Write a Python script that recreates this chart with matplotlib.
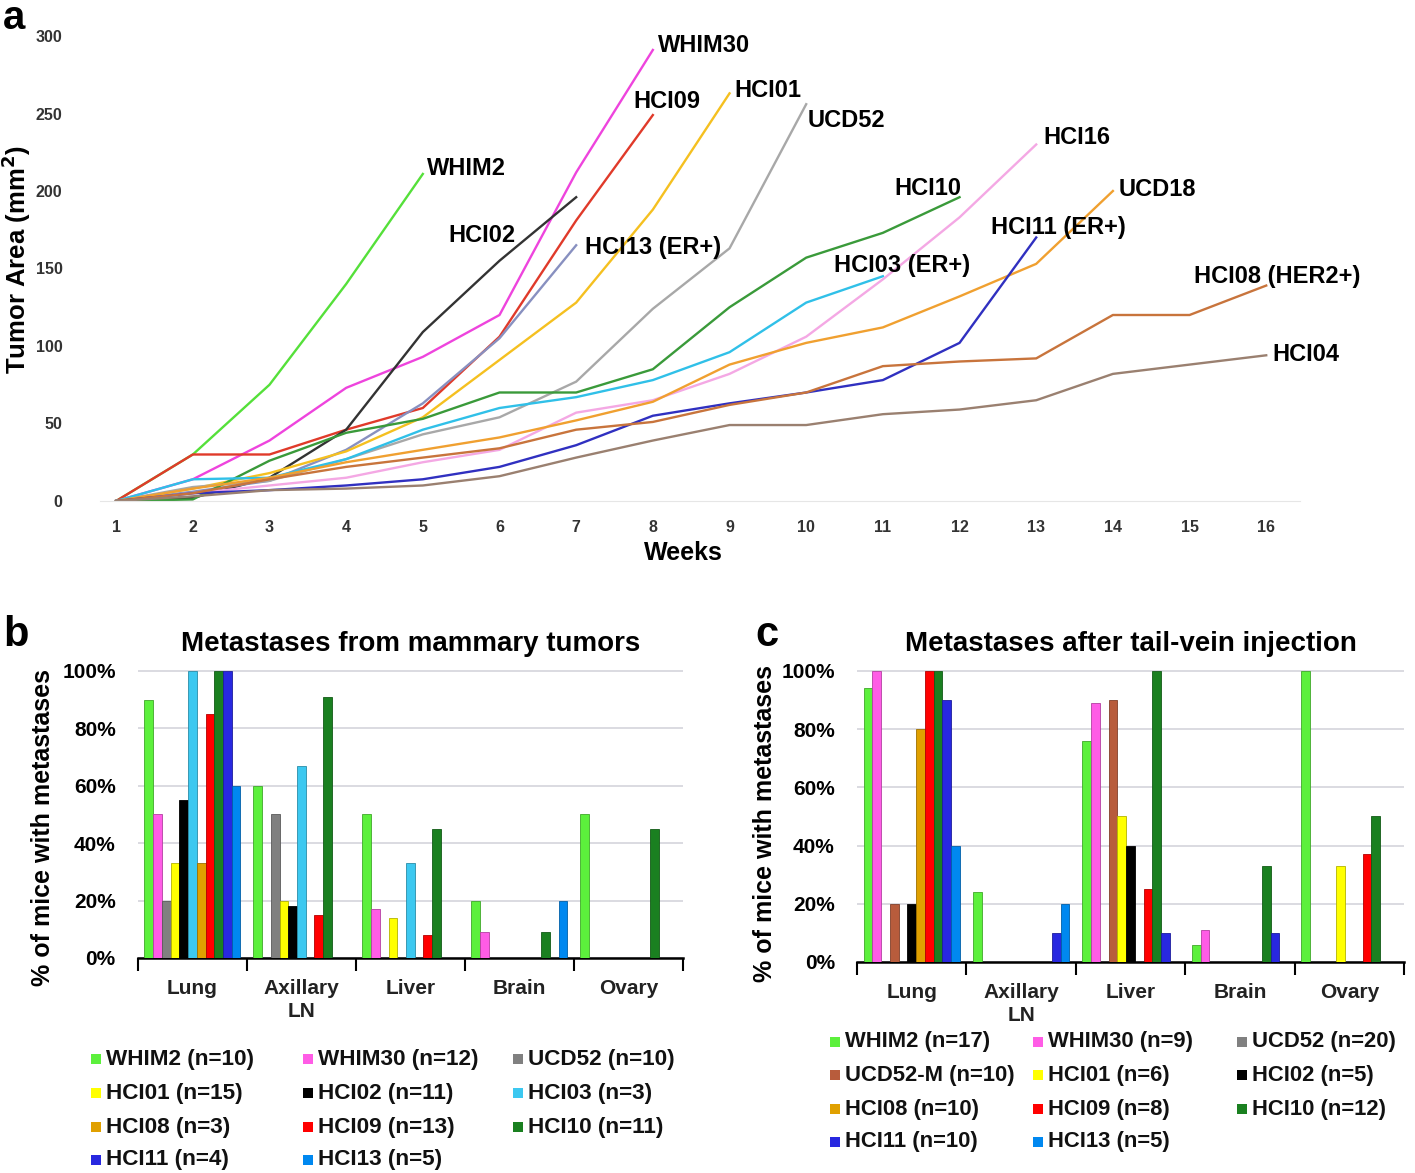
import matplotlib
matplotlib.use('Agg')
import matplotlib.pyplot as plt
from matplotlib.patches import Rectangle
from matplotlib.colors import to_rgb
import numpy as np

#================================================================================
#   Fonts
#================================================================================
plt.rcParams['font.family'] = ['Liberation Sans', 'DejaVu Sans']
plt.rcParams['font.weight'] = 'bold'

#================================================================================
#   DATA  -  panel a (tumor growth, weeks from 1)
#================================================================================
growth_names = ['WHIM2', 'WHIM30', 'HCI09', 'HCI02', 'HCI13 (ER+)', 'HCI01', 'UCD52',
                'HCI10', 'HCI03 (ER+)', 'HCI16', 'UCD18', 'HCI11 (ER+)', 'HCI08 (HER2+)', 'HCI04']

whim2 = [0, 30, 75, 140, 211]
whim30 = [0, 14, 39, 73, 93, 120, 212, 291]
hci09 = [0, 30, 30, 46, 60, 106, 181, 249]
hci02 = [0, 2, 15, 46, 109, 155, 196]
hci13 = [0, 6, 13, 33, 63, 105, 165]
hci01 = [0, 8, 18, 32, 54, 91, 128, 188, 263]
ucd52 = [0, 9, 13, 27, 43, 54, 77, 124, 163, 256]
hci10 = [0, 1, 26, 44, 53, 70, 70, 85, 125, 157, 173, 196]
hci03 = [0, 14, 15, 27, 46, 60, 67, 78, 96, 128, 145]
hci16 = [0, 5, 10, 15, 25, 33, 57, 65, 82, 106, 143, 183, 230]
ucd18 = [0, 8, 15, 25, 33, 41, 52, 64, 88, 102, 112, 132, 153, 200]
hci11 = [0, 5, 7, 10, 14, 22, 36, 55, 63, 70, 78, 102, 170]
hci08 = [0, 5, 14, 22, 28, 34, 46, 51, 62, 70, 87, 90, 92, 120, 120, 139]
hci04 = [0, 3, 7, 8, 10, 16, 28, 39, 49, 49, 56, 59, 65, 82, 88, 94]

growth_values = [whim2, whim30, hci09, hci02, hci13, hci01, ucd52,
                 hci10, hci03, hci16, ucd18, hci11, hci08, hci04]
growth_colors = ['#55e03a', '#ee44dd', '#e03a2a', '#333333', '#8890c0', '#f5c020', '#a8a8a8',
                 '#3a9a3a', '#30c0e8', '#f4a8e4', '#f0a030', '#3030c0', '#c8743c', '#9a8070']
# label offset from the end of each line (pixels)
growth_label_offsets = [(4, 5), (5, 4), (-19, 14), (-128, -38), (9, -2), (5, 3), (1, -16),
                        (-65, 9), (-49, 11), (7, 7), (6, 2), (-45, 10), (-72, 9), (6, 1)]

week_ticks = list(range(1, 17))
area_ticks = [0, 50, 100, 150, 200, 250, 300]

#================================================================================
#   DATA  -  panels b and c (% of mice with metastases)
#================================================================================
sites = ['Lung', 'Axillary\nLN', 'Liver', 'Brain', 'Ovary']
pct_ticks = [0, 20, 40, 60, 80, 100]

series_colors = {
    'WHIM2': '#5cf03c', 'WHIM30': '#ff5ce6', 'UCD52': '#808080', 'UCD52-M': '#b85c3c',
    'HCI01': '#ffff00', 'HCI02': '#000000', 'HCI03': '#3cc8f0', 'HCI08': '#e0a000',
    'HCI09': '#ff0000', 'HCI10': '#1a8020', 'HCI11': '#2828e0', 'HCI13': '#0088f0',
}

mammary_names = ['WHIM2', 'WHIM30', 'UCD52', 'HCI01', 'HCI02', 'HCI03',
                 'HCI08', 'HCI09', 'HCI10', 'HCI11', 'HCI13']
mammary_n = [10, 12, 10, 15, 11, 3, 3, 13, 11, 4, 5]
# rows = series, columns = Lung, Axillary LN, Liver, Brain, Ovary
mammary_pct = [
    [90, 60, 50, 20, 50],
    [50, 0, 17, 9, 0],
    [20, 50, 0, 0, 0],
    [33, 20, 14, 0, 0],
    [55, 18, 0, 0, 0],
    [100, 67, 33, 0, 0],
    [33, 0, 0, 0, 0],
    [85, 15, 8, 0, 0],
    [100, 91, 45, 9, 45],
    [100, 0, 0, 0, 0],
    [60, 0, 0, 20, 0],
]

tailvein_names = ['WHIM2', 'WHIM30', 'UCD52', 'UCD52-M', 'HCI01', 'HCI02',
                  'HCI08', 'HCI09', 'HCI10', 'HCI11', 'HCI13']
tailvein_n = [17, 9, 20, 10, 6, 5, 10, 8, 12, 10, 5]
tailvein_pct = [
    [94, 24, 76, 6, 100],
    [100, 0, 89, 11, 0],
    [0, 0, 0, 0, 0],
    [20, 0, 90, 0, 0],
    [0, 0, 50, 0, 33],
    [20, 0, 40, 0, 0],
    [80, 0, 0, 0, 0],
    [100, 0, 25, 0, 37],
    [100, 0, 100, 33, 50],
    [90, 10, 10, 10, 0],
    [40, 20, 0, 0, 0],
]

#================================================================================
#   Helpers
#================================================================================
def darker(color, f=0.7):
    r, g, b = to_rgb(color)
    return (r * f, g * f, b * f)


def draw_growth(fig):
    ax = fig.add_axes([0.0707, 0.5729, 0.848, 0.3964])
    for name, vals, col, off in zip(growth_names, growth_values, growth_colors, growth_label_offsets):
        weeks = np.arange(1, len(vals) + 1)
        ax.plot(weeks, vals, color=col, lw=1.7)
        ax.annotate(name, xy=(weeks[-1], vals[-1]), xytext=off, textcoords='offset pixels',
                    ha='left', va='center', fontsize=17, fontweight='bold', color='black')
    ax.set_xlim(0.79, 16.44)
    ax.set_ylim(0, 300)
    ax.set_xticks(week_ticks)
    ax.set_yticks(area_ticks)
    ax.tick_params(axis='both', length=0, labelsize=11.5, labelcolor='#333333')
    ax.tick_params(axis='y', pad=27)
    ax.tick_params(axis='x', pad=14)
    for s in ['top', 'right', 'left']:
        ax.spines[s].set_visible(False)
    ax.spines['bottom'].set_color('#e6e6e6')
    ax.set_xlabel('Weeks', fontsize=18, fontweight='bold')
    ax.xaxis.set_label_coords(0.486, -0.085)
    ax.set_ylabel('Tumor Area (mm$^\\mathbf{2}$)', fontsize=18.5, fontweight='bold')
    ax.yaxis.set_label_coords(-0.056, 0.52)
    return ax


def draw_bars(fig, rect, names, pct, title, ylabel_xy):
    ax = fig.add_axes(rect)
    x = np.arange(len(sites))
    nser = len(names)
    w = 0.08
    start = -w * (nser - 1) / 2
    for i, (name, vals) in enumerate(zip(names, pct)):
        col = series_colors[name]
        ax.bar(x + start + i * w, vals, width=w, color=col, edgecolor=darker(col),
               linewidth=0.6, zorder=3)
    ax.set_xlim(-0.5, len(sites) - 0.5)
    ax.set_ylim(0, 101)
    ax.set_yticks(pct_ticks)
    ax.set_yticklabels(['%d%%' % v for v in pct_ticks])
    ax.yaxis.grid(True, color='#d4d4dc', lw=1.2, zorder=0)
    ax.set_xticks(x)
    ax.set_xticklabels(sites, fontsize=15, fontweight='bold', color='#222222', linespacing=1.25)
    ax.set_xticks(np.arange(len(sites) + 1) - 0.5, minor=True)
    ax.tick_params(axis='x', which='major', length=0, pad=15)
    ax.tick_params(axis='x', which='minor', length=9, width=1.5, direction='out', color='black')
    ax.tick_params(axis='y', length=0, labelsize=15, pad=16)
    for s in ['top', 'right', 'left']:
        ax.spines[s].set_visible(False)
    ax.spines['bottom'].set_linewidth(1.8)
    ax.set_title(title, fontsize=20, fontweight='bold', pad=12)
    ax.set_ylabel('% of mice with metastases', fontsize=18, fontweight='bold')
    ax.yaxis.set_label_coords(*ylabel_xy)
    return ax


def draw_legend(fig, names, counts, col_x, row_y, size):
    # row-major legend, 3 columns, positions in pixels of the 1415x1173 figure
    W, H = 1415.0, 1173.0
    for i, (name, n) in enumerate(zip(names, counts)):
        cx = col_x[i % 3]
        cy = row_y[i // 3]
        fig.patches.append(Rectangle(((cx - 5) / W, 1 - (cy + 5) / H), 10 / W, 10 / H,
                                     transform=fig.transFigure, facecolor=series_colors[name],
                                     edgecolor='none'))
        fig.text((cx + 10) / W, 1 - cy / H, '%s (n=%d)' % (name, n), ha='left', va='center',
                 fontsize=size, fontweight='bold', color='#111111')

#================================================================================
#   MAIN
#================================================================================
def main():
    fig = plt.figure(figsize=(14.15, 11.73), dpi=100)

    draw_growth(fig)

    draw_bars(fig, [0.0975, 0.1833, 0.385, 0.2472], mammary_names, mammary_pct,
              'Metastases from mammary tumors', (-0.152, 0.45))
    draw_bars(fig, [0.6057, 0.1799, 0.3866, 0.2506], tailvein_names, tailvein_pct,
              'Metastases after tail-vein injection', (-0.146, 0.47))

    draw_legend(fig, mammary_names, mammary_n, [96, 308, 518], [1059, 1093, 1127, 1160], 16.2)
    draw_legend(fig, tailvein_names, tailvein_n, [835, 1038, 1242], [1042, 1075, 1109, 1142], 15.8)

    fig.text(0.002, 0.975, 'a', fontsize=29, fontweight='bold', ha='left', va='baseline')
    fig.text(0.002, 0.449, 'b', fontsize=30, fontweight='bold', ha='left', va='baseline')
    fig.text(0.534, 0.449, 'c', fontsize=30, fontweight='bold', ha='left', va='baseline')

    fig.savefig('out.png', dpi=100, facecolor='white')

if __name__ == '__main__':
    main()
